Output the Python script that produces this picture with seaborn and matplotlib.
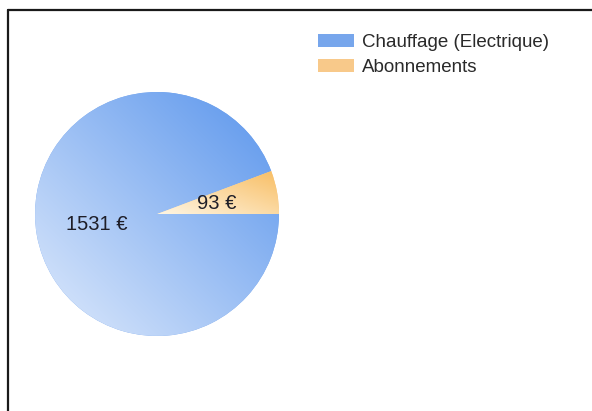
import numpy as np
import matplotlib
matplotlib.use("Agg")
import matplotlib.pyplot as plt
from matplotlib.lines import Line2D
import seaborn as sns

categories = ["Chauffage (Electrique)", "Abonnements"]
values = [1531, 93]
unit = "€"

sns.set_style("white")
plt.rcParams['font.family'] = ['Liberation Sans', 'DejaVu Sans']

W, H, DPI = 592, 411, 100
fig = plt.figure(figsize=(W / DPI, H / DPI), dpi=DPI)
fig.patch.set_facecolor("white")

cx, cy, R = 157, 214, 122
ax = fig.add_axes([(cx - R) / W, (H - cy - R) / H, 2 * R / W, 2 * R / H])

solid = ["#77a6ec", "#f8c98a"]
grad = [((224, 235, 252), (88, 148, 236)),
        ((255, 246, 228), (248, 190, 100))]

total = sum(values)
wedges, texts, autotexts = ax.pie(
    values, colors=solid, startangle=0, counterclock=False,
    autopct=lambda p: f"{round(p * total / 100)} {unit}", pctdistance=0.5,
    textprops=dict(fontsize=14.5, color="#1e1e28"),
    wedgeprops=dict(linewidth=0))

# gradient fills clipped to each wedge
n = 300
for w, (c0, c1) in zip(wedges, grad):
    th1, th2 = np.deg2rad(w.theta1), np.deg2rad(w.theta2)
    if abs(w.theta2 - w.theta1) > 180:
        x0, x1, y0, y1 = -1, 1, -1, 1
    else:
        angs = np.linspace(th1, th2, 50)
        xs = np.concatenate([[0], np.cos(angs)])
        ys = np.concatenate([[0], np.sin(angs)])
        x0, x1, y0, y1 = xs.min(), xs.max(), ys.min(), ys.max()
    gx, gy = np.meshgrid(np.linspace(0, 1, n), np.linspace(0, 1, n))
    s = (gx + gy) / 2
    img = np.zeros((n, n, 3))
    for k in range(3):
        img[..., k] = (c0[k] + (c1[k] - c0[k]) * s) / 255
    im = ax.imshow(img, extent=(x0, x1, y0, y1), origin="lower",
                   interpolation="bilinear", zorder=w.get_zorder() + 0.1,
                   aspect="auto")
    im.set_clip_path(w)
for t in autotexts:
    t.set_zorder(5)
ax.set_xlim(-1, 1)
ax.set_ylim(-1, 1)
ax.set_aspect("equal")
ax.axis("off")

# legend
fs = 13.5
fig.legend(wedges, categories, loc="upper left",
           bbox_to_anchor=(318 / W, 1 - 34 / H), frameon=False,
           borderpad=0, borderaxespad=0, handlelength=1.9, handleheight=0.7,
           handletextpad=0.42, labelspacing=0.4,
           prop=dict(size=fs), labelcolor="#2a2a2a")

# border lines
lc = "#1a1a1a"
fig.add_artist(Line2D([8 / W, 1], [1 - 10 / H, 1 - 10 / H], color=lc, lw=1.6,
                      transform=fig.transFigure))
fig.add_artist(Line2D([8 / W, 8 / W], [0, 1 - 10 / H], color=lc, lw=1.6,
                      transform=fig.transFigure))

fig.savefig("out.png", dpi=DPI)
